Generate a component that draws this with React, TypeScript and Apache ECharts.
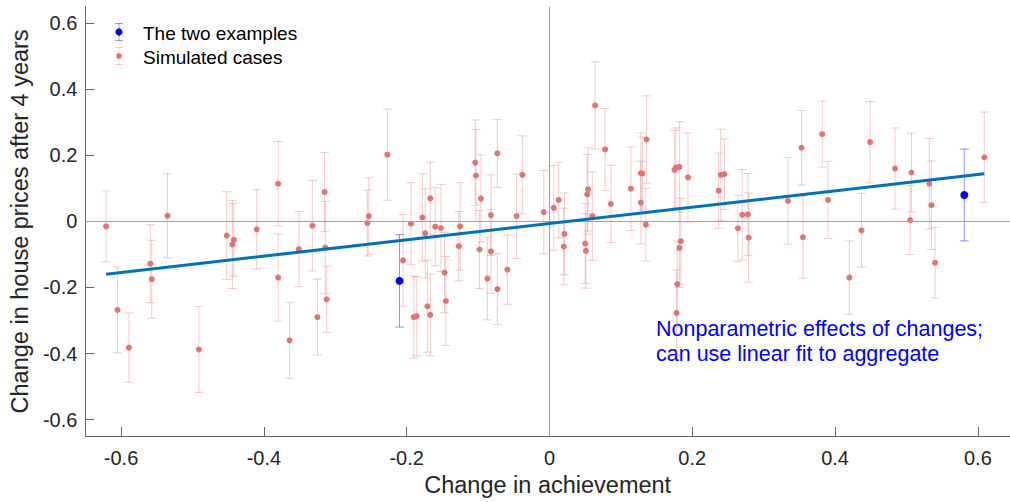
import React, { useEffect, useRef } from "react";
import * as echarts from "echarts";

// Simulated cases: x (change in achievement), y (change in house prices), err (half-width of error bar)
const simX = [
  -0.621, -0.605, -0.589, -0.559, -0.557, -0.535, -0.491, -0.452, -0.444, -0.442,
  -0.41, -0.38, -0.38, -0.364, -0.351, -0.332, -0.325, -0.315, -0.314, -0.312,
  -0.255, -0.253, -0.227, -0.205, -0.194, -0.19, -0.186, -0.178, -0.174, -0.171,
  -0.167, -0.167, -0.16, -0.152, -0.147, -0.145, -0.127, -0.125, -0.104, -0.103,
  -0.098, -0.096, -0.087, -0.082, -0.082, -0.073, -0.073, -0.059, -0.046, -0.038,
  -0.008, 0.006, 0.013, 0.021, 0.02, 0.05, 0.051, 0.053, 0.054, 0.06,
  0.064, 0.078, 0.086, 0.114, 0.128, 0.13, 0.128, 0.136, 0.135, 0.175,
  0.177, 0.182, 0.194, 0.179, 0.178, 0.182, 0.184, 0.237, 0.24, 0.245,
  0.264, 0.27, 0.278, 0.279, 0.334, 0.353, 0.355, 0.382, 0.39, 0.42,
  0.437, 0.449, 0.484, 0.507, 0.505, 0.532, 0.535, 0.54, 0.609,
];
const simY = [
  -0.015, -0.268, -0.382, -0.128, -0.175, 0.017, -0.388, -0.043, -0.07, -0.056,
  -0.024, 0.114, -0.17, -0.36, -0.084, -0.013, -0.29, 0.089, -0.079, -0.236,
  -0.005, 0.016, 0.202, -0.118, -0.007, -0.29, -0.287, 0.012, -0.036, -0.257,
  0.07, -0.283, -0.016, -0.02, -0.155, -0.241, -0.075, -0.015, 0.178, 0.139,
  -0.085, 0.069, -0.173, -0.091, 0.019, 0.206, -0.205, -0.146, 0.016, 0.141,
  0.028, 0.041, 0.065, -0.038, -0.076, -0.067, -0.089, 0.082, 0.097, 0.016,
  0.351, 0.218, 0.053, 0.099, 0.146, 0.145, 0.057, 0.248, -0.01, 0.156,
  0.163, 0.165, 0.133, -0.19, -0.277, -0.08, -0.06, 0.093, 0.141, 0.143,
  -0.021, 0.02, 0.021, -0.049, 0.062, 0.223, -0.048, 0.264, 0.065, -0.17,
  -0.027, 0.24, 0.16, 0.148, 0.004, 0.114, 0.049, -0.125, 0.194,
];
const simErr = [
  0.107, 0.13, 0.105, 0.118, 0.118, 0.127, 0.13, 0.133, 0.133, 0.11,
  0.12, 0.128, 0.132, 0.115, 0.114, 0.137, 0.115, 0.12, 0.14, 0.1,
  0.1, 0.116, 0.138, 0.139, 0.124, 0.124, 0.12, 0.132, 0.135, 0.139,
  0.109, 0.124, 0.118, 0.132, 0.122, 0.135, 0.105, 0.132, 0.129, 0.139,
  0.118, 0.132, 0.125, 0.127, 0.122, 0.103, 0.107, 0.105, 0.128, 0.118,
  0.126, 0.128, 0.115, 0.124, 0.116, 0.121, 0.113, 0.121, 0.126, 0.134,
  0.132, 0.124, 0.117, 0.127, 0.122, 0.11, 0.125, 0.132, 0.11, 0.12,
  0.12, 0.137, 0.135, 0.13, 0.13, 0.12, 0.13, 0.114, 0.138, 0.107,
  0.1, 0.137, 0.124, 0.135, 0.131, 0.113, 0.124, 0.1, 0.117, 0.111,
  0.111, 0.123, 0.123, 0.119, 0.104, 0.137, 0.134, 0.107, 0.137,
];

// The two examples
const exX = [-0.21, 0.581];
const exY = [-0.18, 0.08];
const exErr = [0.14, 0.139];

// Linear fit endpoints
const fitX = [-0.621, 0.609];
const fitY = [-0.16, 0.144];

const tickValues = [-0.6, -0.4, -0.2, 0, 0.2, 0.4, 0.6];

const xTitle = "Change in achievement";
const yTitle = "Change in house prices after 4 years";
const legendLabels = ["The two examples", "Simulated cases"];
const noteLines = ["Nonparametric effects of changes;", "can use linear fit to aggregate"];

const FONT = "'Liberation Sans', Arial, Helvetica, sans-serif";
const PINK = "#e57373";
const PINK_BAR = "rgba(229,115,115,0.38)";
const BLUE = "#0000ff";
const BLUE_BAR = "rgba(40,40,255,0.5)";
const FIT = "#0072BD";

function errorRender(color: string) {
  return (params: any, api: any) => {
    const x = api.value(0);
    const y = api.value(1);
    const e = api.value(2);
    const top = api.coord([x, y + e]);
    const bot = api.coord([x, y - e]);
    const hw = 4.5;
    const style = { stroke: color, lineWidth: 1, fill: null };
    return {
      type: "group",
      children: [
        { type: "line", shape: { x1: top[0], y1: top[1], x2: bot[0], y2: bot[1] }, style },
        { type: "line", shape: { x1: top[0] - hw, y1: top[1], x2: top[0] + hw, y2: top[1] }, style },
        { type: "line", shape: { x1: bot[0] - hw, y1: bot[1], x2: bot[0] + hw, y2: bot[1] }, style },
      ],
    };
  };
}

const fmt = (v: number) => (Math.abs(v) < 1e-9 ? "0" : v.toFixed(1));

export default function App() {
  const ref = useRef<HTMLDivElement>(null);
  useEffect(() => {
    if (!ref.current) return;
    const chart = echarts.init(ref.current, null, { renderer: "svg" });
    const simData = simX.map((x, i) => [x, simY[i], simErr[i]]);
    const exData = exX.map((x, i) => [x, exY[i], exErr[i]]);
    const fitData = fitX.map((x, i) => [x, fitY[i]]);

    const legendItem = (y: number, color: string, barColor: string, r: number, label: string) => ({
      type: "group",
      children: [
        { type: "line", shape: { x1: 119, y1: y - 8.5, x2: 119, y2: y + 8.5 }, style: { stroke: barColor, lineWidth: 1 } },
        { type: "line", shape: { x1: 115, y1: y - 8.5, x2: 123, y2: y - 8.5 }, style: { stroke: barColor, lineWidth: 1 } },
        { type: "line", shape: { x1: 115, y1: y + 8.5, x2: 123, y2: y + 8.5 }, style: { stroke: barColor, lineWidth: 1 } },
        { type: "circle", shape: { cx: 119, cy: y, r }, style: { fill: color } },
        {
          type: "text",
          x: 143,
          y: y + 1,
          style: { text: label, fill: "#000", font: `19px ${FONT}`, textVerticalAlign: "middle", textAlign: "left" },
        },
      ],
    });

    chart.setOption({
      animation: false,
      backgroundColor: "#fff",
      grid: { left: 83.5, right: 0, top: 6.7, bottom: 62, containLabel: false },
      xAxis: {
        type: "value",
        min: -0.65,
        max: 0.645,
        name: xTitle,
        nameLocation: "middle",
        nameGap: 34,
        nameTextStyle: { fontFamily: FONT, fontSize: 23.5, color: "#262626" },
        axisLine: { show: true, onZero: false, lineStyle: { color: "#666", width: 1 } },
        axisTick: { show: true, inside: true, length: 9, customValues: tickValues, lineStyle: { color: "#666" } },
        axisLabel: {
          customValues: tickValues,
          formatter: fmt,
          fontFamily: FONT,
          fontSize: 20,
          color: "#262626",
          margin: 12,
        },
        splitLine: { show: false },
      },
      yAxis: {
        type: "value",
        min: -0.65,
        max: 0.65,
        name: yTitle,
        nameLocation: "middle",
        nameGap: 49,
        nameRotate: 90,
        nameTextStyle: { fontFamily: FONT, fontSize: 23.5, color: "#262626" },
        axisLine: { show: true, onZero: false, lineStyle: { color: "#666", width: 1 } },
        axisTick: { show: true, inside: true, length: 9, customValues: tickValues, lineStyle: { color: "#666" } },
        axisLabel: {
          customValues: tickValues,
          formatter: fmt,
          fontFamily: FONT,
          fontSize: 20,
          color: "#262626",
          margin: 8,
        },
        splitLine: { show: false },
      },
      series: [
        {
          type: "line",
          data: [],
          silent: true,
          markLine: {
            silent: true,
            symbol: "none",
            label: { show: false },
            lineStyle: { color: "#a0a0a0", width: 1, type: "solid" },
            data: [{ xAxis: 0 }, { yAxis: 0 }],
          },
          z: 1,
        },
        {
          type: "custom",
          data: simData,
          renderItem: errorRender(PINK_BAR),
          encode: { x: 0, y: 1 },
          z: 2,
          silent: true,
        },
        {
          type: "scatter",
          data: simData.map((d) => [d[0], d[1]]),
          symbolSize: 6,
          itemStyle: { color: PINK, opacity: 1 },
          z: 3,
          silent: true,
        },
        {
          type: "custom",
          data: exData,
          renderItem: errorRender(BLUE_BAR),
          encode: { x: 0, y: 1 },
          z: 4,
          silent: true,
        },
        {
          type: "line",
          data: fitData,
          showSymbol: false,
          symbol: "none",
          lineStyle: { color: FIT, width: 3 },
          z: 5,
          silent: true,
        },
        {
          type: "scatter",
          data: exData.map((d) => [d[0], d[1]]),
          symbolSize: 8,
          itemStyle: { color: BLUE, opacity: 1 },
          z: 6,
          silent: true,
        },
      ],
      graphic: [
        legendItem(32, BLUE, BLUE_BAR, 3.6, legendLabels[0]),
        legendItem(56, PINK, PINK_BAR, 2.8, legendLabels[1]),
        {
          type: "text",
          x: 656,
          y: 316,
          style: {
            text: noteLines.join("\n"),
            fill: BLUE,
            font: `21.5px ${FONT}`,
            lineHeight: 25,
            textAlign: "left",
          },
        },
      ],
    });
    return () => chart.dispose();
  }, []);
  return (
    <div
      ref={ref}
      style={{ position: "fixed", left: 0, top: 0, width: 1010, height: 502, background: "#fff" }}
    />
  );
}
